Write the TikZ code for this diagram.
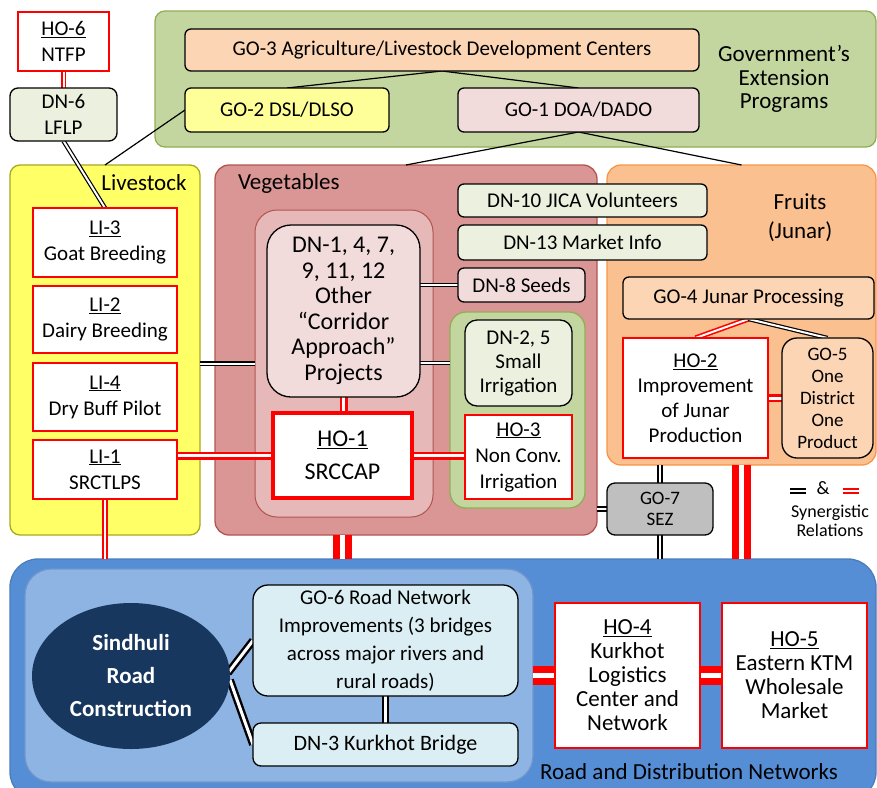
\documentclass[tikz,border=0pt]{standalone}
\usepackage{fontspec}
\setmainfont{Carlito}
\usetikzlibrary{shapes.geometric,calc}
\pgfdeclarelayer{contlayer}
\pgfdeclarelayer{connlayer}
\pgfsetlayers{contlayer,connlayer,main}
\definecolor{grnFill}{HTML}{C4D69F}
\definecolor{grnLine}{HTML}{8FAF55}
\definecolor{peach}{HTML}{FCD5B5}
\definecolor{yel}{HTML}{FFFF99}
\definecolor{pinkb}{HTML}{F2DCDB}
\definecolor{dnG}{HTML}{EBF1DE}
\definecolor{lvFill}{HTML}{FFFF66}
\definecolor{lvLine}{HTML}{A8A820}
\definecolor{vegFill}{HTML}{D99694}
\definecolor{vegLine}{HTML}{B25450}
\definecolor{vegIn}{HTML}{E6B9B8}
\definecolor{frFill}{HTML}{FAC090}
\definecolor{frLine}{HTML}{F79646}
\definecolor{gry}{HTML}{BFBFBF}
\definecolor{blOut}{HTML}{558ED5}
\definecolor{blLine}{HTML}{4A7EBB}
\definecolor{blIn}{HTML}{8EB4E3}
\definecolor{blInLine}{HTML}{6F97CC}
\definecolor{navy}{HTML}{17375E}
\definecolor{ltb}{HTML}{DBEEF4}
\newcommand\bx[7]{\node[#6,minimum width={(#4)-(#2)},minimum height={(#5)-(#3)}] (#1) at ({((#2)+(#4))/2},{((#3)+(#5))/2}) {#7};}
\begin{document}
\begin{tikzpicture}[x=1pt,y=-1pt,
  every node/.style={inner sep=0pt,outer sep=0pt,align=center,text=black},
  f21/.style={font=\fontsize{21}{26}\selectfont},
  bbox/.style={draw=black,line width=1.3pt,rounded corners=6pt,f21},
  rbox/.style={draw=red,line width=1.8pt,fill=white,f21},
  contbox/.style={line width=1.3pt,rounded corners=10pt},
  lbl/.style={font=\fontsize{23}{23.5}\selectfont},
  sline/.style={draw=black,line width=1.2pt},
  bdbl/.style={draw=black,double=white,double distance=2pt,line width=1.2pt},
  bdblg/.style={draw=black,double=white,double distance=2.5pt,line width=1.8pt},
  bdblw/.style={draw=black,double=white,double distance=3pt,line width=2.4pt},
  rdbl/.style={draw=red,double=white,double distance=2pt,line width=1.6pt},
  rdblm/.style={draw=red,double=white,double distance=3pt,line width=2.5pt},
  rdblt/.style={draw=red,double=white,double distance=5pt,line width=7pt}]
\useasboundingbox (0,0) rectangle (877,787);
\begin{pgfonlayer}{contlayer}
\bx{green}{155}{11}{876}{147}{contbox,fill=grnFill,draw=grnLine}{}
\bx{live}{10}{165}{200}{535}{contbox,fill=lvFill,draw=lvLine}{}
\bx{veg}{215}{165}{597}{535}{contbox,fill=vegFill,draw=vegLine,rounded corners=14pt}{}
\bx{vegin}{255}{210}{433}{517}{contbox,fill=vegIn,draw=vegLine,line width=1pt,rounded corners=22pt}{}
\bx{irr}{450}{312}{585}{508}{contbox,fill=grnFill,draw=grnLine,rounded corners=16pt}{}
\bx{fruit}{607}{165}{876}{465}{contbox,fill=frFill,draw=frLine,rounded corners=14pt}{}
\bx{blue}{10}{559}{876}{800}{contbox,fill=blOut,draw=blLine,rounded corners=28pt}{}
\bx{bluein}{25}{569}{533}{782}{contbox,fill=blIn,draw=blInLine,rounded corners=26pt}{}
\end{pgfonlayer}
% labels
\node[lbl] (govlbl) at (784,79) {Government’s\\Extension\\Programs};
\node[lbl] (livlbl) at (144,183) {Livestock};
\node[lbl,anchor=west] (veglbl) at (238,183) {Vegetables};
\node[font=\fontsize{23}{29}\selectfont] (frlbl) at (800,218) {Fruits\\(Junar)};
\node[lbl] (roadlbl) at (689,772) {Road and Distribution Networks};
% nodes
\bx{ho6}{18}{12}{109}{71}{rbox}{\underline{HO-6}\\NTFP}
\bx{dn6}{10}{88}{117}{141}{bbox,fill=dnG,rounded corners=8pt}{DN-6\\LFLP}
\bx{go3}{185}{29}{699}{71}{bbox,fill=peach}{GO-3 Agriculture/Livestock Development Centers}
\bx{go2}{185}{88}{389}{132}{bbox,fill=yel}{GO-2 DSL/DLSO}
\bx{go1}{458}{88}{699}{132}{bbox,fill=pinkb}{GO-1 DOA/DADO}
\bx{li3}{33}{208}{177}{277}{rbox}{\underline{LI-3}\\Goat Breeding}
\bx{li2}{33}{286}{177}{353}{rbox}{\underline{LI-2}\\Dairy Breeding}
\bx{li4}{33}{363}{177}{431}{rbox}{\underline{LI-4}\\Dry Buff Pilot}
\bx{li1}{33}{440}{177}{499}{rbox}{\underline{LI-1}\\SRCTLPS}
\bx{dn1}{267}{225}{420}{397}{bbox,fill=pinkb,rounded corners=24pt,font=\fontsize{24}{25.5}\selectfont}{DN-1, 4, 7,\\9, 11, 12\\Other\\“Corridor\\Approach”\\Projects}
\bx{ho1}{273}{413}{412}{498}{rbox,line width=4pt,font=\fontsize{24}{33}\selectfont}{\underline{HO-1}\\SRCCAP}
\bx{dn10}{458}{184}{707}{217}{bbox,fill=dnG}{DN-10 JICA Volunteers}
\bx{dn13}{458}{225}{707}{260}{bbox,fill=dnG}{DN-13 Market Info}
\bx{dn8}{458}{268}{585}{302}{bbox,fill=pinkb}{DN-8 Seeds}
\bx{dn25}{465}{320}{572}{406}{bbox,fill=dnG,rounded corners=12pt,font=\fontsize{21}{24}\selectfont}{DN-2, 5\\Small\\Irrigation}
\bx{ho3}{465}{415}{572}{499}{rbox}{\underline{HO-3}\\Non Conv.\\Irrigation}
\bx{go4}{623}{277}{874}{319}{bbox,fill=peach}{GO-4 Junar Processing}
\bx{ho2}{623}{338}{768}{458}{rbox,font=\fontsize{21}{25}\selectfont}{\underline{HO-2}\\Improvement\\of Junar\\Production}
\bx{go5}{782}{338}{873}{458}{bbox,fill=peach,rounded corners=15pt,font=\fontsize{19}{22}\selectfont}{GO-5\\One\\District\\One\\Product}
\bx{go7}{607}{483}{713}{535}{bbox,fill=gry,rounded corners=8pt,font=\fontsize{19}{21}\selectfont}{GO-7\\SEZ}
\node[ellipse,fill=navy,minimum width=198,minimum height=146,text=white,font=\bfseries\fontsize{23}{33}\selectfont] (sind) at (131,676) {Sindhuli\\Road\\Construction};
\bx{go6}{253}{585}{518}{696}{bbox,fill=ltb,rounded corners=15pt,font=\fontsize{21}{28}\selectfont}{GO-6 Road Network\\Improvements (3 bridges\\across major rivers and\\rural roads)}
\bx{dn3}{253}{723}{518}{766}{bbox,fill=ltb,rounded corners=8pt,font=\fontsize{22}{26}\selectfont}{DN-3 Kurkhot Bridge}
\bx{ho4}{555}{603}{700}{748}{rbox,font=\fontsize{23}{24}\selectfont}{\underline{HO-4}\\Kurkhot\\Logistics\\Center and\\Network}
\bx{ho5}{722}{603}{867}{748}{rbox,font=\fontsize{23}{24}\selectfont}{\underline{HO-5}\\Eastern KTM\\Wholesale\\Market}
% legend
\coordinate (lgA) at (790,491);
\coordinate (lgB) at (806,491);
\coordinate (lgC) at (843,491);
\coordinate (lgD) at (859,491);
\draw[draw=black,double=white,double distance=1.5pt,line width=2.5pt] (lgA) -- (lgB);
\draw[draw=red,double=white,double distance=1.5pt,line width=2.5pt] (lgC) -- (lgD);
\node[font=\fontsize{19}{19}\selectfont] (amp) at (823,488) {\&};
\node[font=\fontsize{18}{19}\selectfont] (syn) at (830,521) {Synergistic\\Relations};
% connectors
\begin{pgfonlayer}{connlayer}
\draw[rdbl] (ho6.south) -- (dn6.north);
\draw[bdbl] (dn6.south) -- (li3.north);
\draw[sline] (go2.west) -- (live.north);
\draw[sline] (go3.south) -- (go2.north);
\draw[sline] (go3.south) -- (go1.north);
\draw[sline] (go1.south) -- (veg.north);
\draw[sline] (go1.south) -- (fruit.north);
\draw[bdbl] (vegin.west -| live.east) -- (vegin.west);
\draw[bdbl] (dn8.west -| dn1.east) -- (dn8.west);
\draw[bdbl] (dn25.west -| dn1.east) -- (dn25.west -| irr.west);
\draw[rdblm] (dn1.south) -- (dn1.south |- ho1.north);
\draw[rdblm] (ho1.west -| li1.east) -- (ho1.west);
\draw[rdblm] (ho1.east) -- (ho1.east -| ho3.west);
\draw[rdbl] (li1.south) -- (li1.south |- blue.north);
\draw[rdblt] (ho1.south |- veg.south) -- (ho1.south |- blue.north);
\draw[rdblt] (fruit.south) -- (fruit.south |- blue.north);
\draw[bdblg] (go7.north |- fruit.south) -- (go7.north);
\draw[bdblg] (go7.south) -- (go7.south |- blue.north);
\draw[bdblg] (go7.west) -- (go7.west -| veg.east);
\draw[rdbl] (go4.south) -- (ho2.north);
\draw[bdbl] (go4.south) -- (go5.north);
\draw[rdblm] (ho2.east) -- (ho2.east -| go5.west);
\draw[bdblw] (go6.south) -- (dn3.north);
\draw[bdblw] (go6.west) -- ($(sind.east)+(-2,-3)$);
\draw[bdblw] (dn3.west) -- ($(sind.east)+(0,4)$);
\draw[rdblt] (ho4.west -| bluein.east) -- (ho4.west);
\draw[rdblt] (ho4.east) -- (ho5.west);
\end{pgfonlayer}
\end{tikzpicture}
\end{document}
